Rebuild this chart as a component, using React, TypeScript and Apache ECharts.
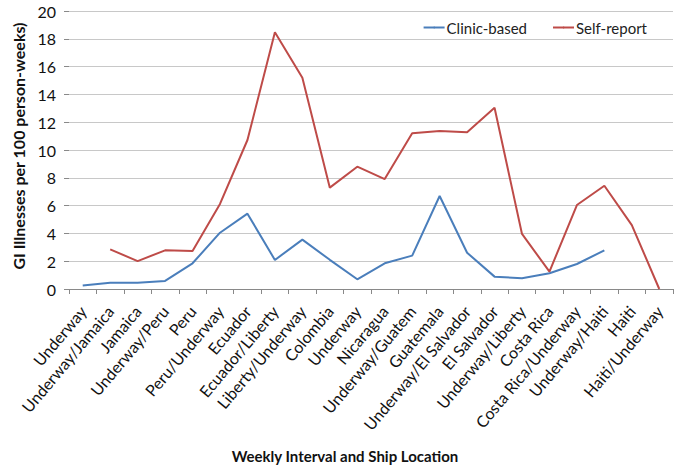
import React, { useEffect, useRef } from "react";
import * as echarts from "echarts";

const categories = [
  "Underway", "Underway/Jamaica", "Jamaica", "Underway/Peru", "Peru", "Peru/Underway",
  "Ecuador", "Ecuador/Liberty", "Liberty/Underway", "Colombia", "Underway", "Nicaragua",
  "Underway/Guatem", "Guatemala", "Underway/El Salvador", "El Salvador", "Underway/Liberty",
  "Costa Rica", "Costa Rica/Underway", "Underway/Haiti", "Haiti", "Haiti/Underway",
];

const clinicBased = [
  0.25, 0.45, 0.45, 0.58, 1.85, 4.05, 5.42, 2.09, 3.55, 2.1, 0.7, 1.85,
  2.4, 6.69, 2.61, 0.89, 0.77, 1.13, 1.8, 2.78, null, null,
];

const selfReport = [
  null, 2.85, 2.01, 2.78, 2.73, 6.12, 10.72, 18.47, 15.2, 7.29, 8.8, 7.91,
  11.2, 11.37, 11.27, 13.04, 3.96, 1.25, 6.04, 7.43, 4.6, 0,
];

const yTicks = { min: 0, max: 20, interval: 2 };

const FONT = "Lato, 'Liberation Sans', sans-serif";

export default function App() {
  const ref = useRef<HTMLDivElement>(null);
  useEffect(() => {
    if (!ref.current) return;
    const chart = echarts.init(ref.current, undefined, { renderer: "svg" });
    chart.setOption({
      animation: false,
      textStyle: { fontFamily: FONT },
      legend: {
        right: 25,
        top: 15,
        itemWidth: 21,
        itemHeight: 2,
        itemGap: 25,
        textStyle: { fontSize: 15, color: "#222", fontFamily: FONT, padding: [0, 0, 0, -3] },
        data: ["Clinic-based", "Self-report"],
      },
      grid: { left: 69, right: 4, top: 11, height: 278 },
      xAxis: {
        type: "category",
        data: categories,
        boundaryGap: true,
        axisLine: { lineStyle: { color: "#898989", width: 1 } },
        axisTick: { show: true, length: 5, lineStyle: { color: "#898989" } },
        axisLabel: {
          rotate: 50,
          interval: 0,
          fontSize: 16,
          color: "#111",
          fontFamily: FONT,
          margin: 19,
        },
      },
      yAxis: {
        type: "value",
        min: yTicks.min,
        max: yTicks.max,
        interval: yTicks.interval,
        axisLine: { show: false },
        axisTick: { show: true, length: 5, lineStyle: { color: "#898989" } },
        axisLabel: { fontSize: 16, color: "#111", fontFamily: FONT, margin: 13 },
        splitLine: { lineStyle: { color: "#c8c8c8", width: 1 } },
      },
      series: [
        {
          name: "Clinic-based",
          type: "line",
          data: clinicBased,
          symbol: "none",
          lineStyle: { color: "#4a7ebb", width: 2 },
          itemStyle: { color: "#4a7ebb" },
        },
        {
          name: "Self-report",
          type: "line",
          data: selfReport,
          symbol: "none",
          lineStyle: { color: "#be4b48", width: 2 },
          itemStyle: { color: "#be4b48" },
        },
      ],
      graphic: [
        {
          type: "text",
          x: 18,
          y: 146,
          rotation: Math.PI / 2,
          style: {
            text: "GI Illnesses per 100 person-weeks)",
            fontSize: 16,
            fontWeight: "bold",
            fontFamily: FONT,
            fill: "#111",
            align: "center",
            verticalAlign: "middle",
          },
        },
        {
          type: "text",
          x: 345,
          y: 456,
          style: {
            text: "Weekly Interval and Ship Location",
            fontSize: 15,
            fontWeight: "bold",
            fontFamily: FONT,
            fill: "#111",
            align: "center",
            verticalAlign: "middle",
          },
        },
      ],
    });
    return () => chart.dispose();
  }, []);
  return <div ref={ref} style={{ width: 677, height: 469, position: "absolute", left: 0, top: 0 }} />;
}
